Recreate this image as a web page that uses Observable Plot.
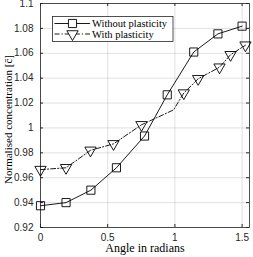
<!DOCTYPE html>
<html><head><meta charset="utf-8">
<script src="https://cdn.jsdelivr.net/npm/d3@7"></script>
<script src="https://cdn.jsdelivr.net/npm/@observablehq/plot@0.6"></script>
<style>body{margin:0;background:#fff;} #chart{position:relative;width:253px;height:257px;}</style>
</head><body><div id="chart"></div>
<script>
const seriesNames = ["Without plasticity", "With plasticity"];
const withoutAngle = [0, 0.19, 0.375, 0.565, 0.774, 0.943, 1.14, 1.32, 1.5];
const withoutConc = [0.9375, 0.940, 0.950, 0.968, 0.9935, 1.0266, 1.061, 1.0756, 1.0818];
const withAngle = [0, 0.19, 0.372, 0.543, 0.751, 0.99, 1.066, 1.173, 1.332, 1.414, 1.525];
const withConc = [0.9665, 0.968, 0.982, 0.9872, 1.0025, 1.0145, 1.028, 1.0395, 1.0488, 1.0588, 1.0665];
const withMarker = [true, true, true, true, true, false, true, true, true, true, true];
const xTicks = [0, 0.5, 1, 1.5];
const yTicks = [0.92, 0.94, 0.96, 0.98, 1, 1.02, 1.04, 1.06, 1.08, 1.1];
const xLabel = "Angle in radians";
const yLabel = "Normalised concentration [c\u0304]";

const without = withoutAngle.map((a, i) => ({a, c: withoutConc[i]}));
const withP = withAngle.map((a, i) => ({a, c: withConc[i], m: withMarker[i]}));
const serif = "'Liberation Serif', 'DejaVu Serif', serif";
const sans = "'Liberation Sans', Arial, sans-serif";
const ink = "#262626";
const dashDot = "5 2 1.2 2";

const plot = Plot.plot({
  width: 253, height: 257,
  marginLeft: 40, marginRight: 4, marginTop: 3, marginBottom: 30,
  x: {domain: [0, 1.555]},
  y: {domain: [0.92, 1.1]},
  style: {background: "#fff", color: ink},
  marks: [
    Plot.gridX(xTicks, {stroke: "#000", strokeOpacity: 0.12}),
    Plot.gridY(yTicks, {stroke: "#000", strokeOpacity: 0.12}),
    Plot.axisX(xTicks, {tickSize: 0, tickPadding: 6, fontSize: 10, fontFamily: sans, label: null, tickFormat: d => String(d)}),
    Plot.axisY(yTicks, {tickSize: 0, tickPadding: 7, fontSize: 10, fontFamily: sans, label: null, tickFormat: d => String(d)}),
    Plot.tickX(xTicks, {x: d => d, insetTop: 221, stroke: ink}),
    Plot.tickX(xTicks, {x: d => d, insetBottom: 221, stroke: ink}),
    Plot.tickY(yTicks, {y: d => d, insetRight: 206, stroke: ink}),
    Plot.tickY(yTicks, {y: d => d, insetLeft: 206, stroke: ink}),
    Plot.frame({stroke: ink, strokeWidth: 0.8}),
    Plot.line(without, {x: "a", y: "c", stroke: "#000", strokeWidth: 0.9}),
    Plot.dot(without, {x: "a", y: "c", symbol: "square", r: 4.6, stroke: "#000", strokeWidth: 0.9, fill: "none"}),
    Plot.line(withP, {x: "a", y: "c", stroke: "#000", strokeWidth: 0.9, strokeDasharray: dashDot}),
    Plot.dot(withP.filter(d => d.m), {x: "a", y: "c", symbol: "triangle", rotate: 180, r: 4.2, stroke: "#000", strokeWidth: 0.9, fill: "none"}),
    Plot.text([xLabel], {frameAnchor: "bottom", lineAnchor: "middle", textAnchor: "middle", dy: 21, fontSize: 12, fontFamily: serif, fill: "#000"}),
    Plot.text([yLabel], {frameAnchor: "left", lineAnchor: "middle", textAnchor: "middle", dx: -32, dy: 4, rotate: -90, fontSize: 11, fontFamily: serif, fill: "#000"})
  ]
});
document.getElementById("chart").appendChild(plot);

// legend inside the axes (top-left)
const svg = d3.select(plot);
const lg = svg.append("g").attr("transform", "translate(52.5,16.5)");
lg.append("rect").attr("width", 120.5).attr("height", 25).attr("fill", "#fff").attr("stroke", ink).attr("stroke-width", 0.8);
const rows = [
  {name: seriesNames[0], dash: null, sym: d3.symbolSquare, r: 4.6, rot: 0},
  {name: seriesNames[1], dash: dashDot, sym: d3.symbolTriangle, r: 4.2, rot: 180}
];
rows.forEach((row, i) => {
  const y = 7 + i * 10.5;
  lg.append("line").attr("x1", 2).attr("x2", 37.5).attr("y1", y).attr("y2", y)
    .attr("stroke", "#000").attr("stroke-width", 0.9).attr("stroke-dasharray", row.dash);
  lg.append("path").attr("d", d3.symbol(row.sym, Math.PI * row.r * row.r)())
    .attr("transform", `translate(20,${y}) rotate(${row.rot})`)
    .attr("fill", "#fff").attr("stroke", "#000").attr("stroke-width", 0.9);
  lg.append("text").attr("x", 39.5).attr("y", y).attr("dy", "0.35em").attr("text-anchor", "start")
    .attr("font-family", serif).attr("font-size", 10.5).attr("fill", "#000").text(row.name);
});
</script></body></html>
